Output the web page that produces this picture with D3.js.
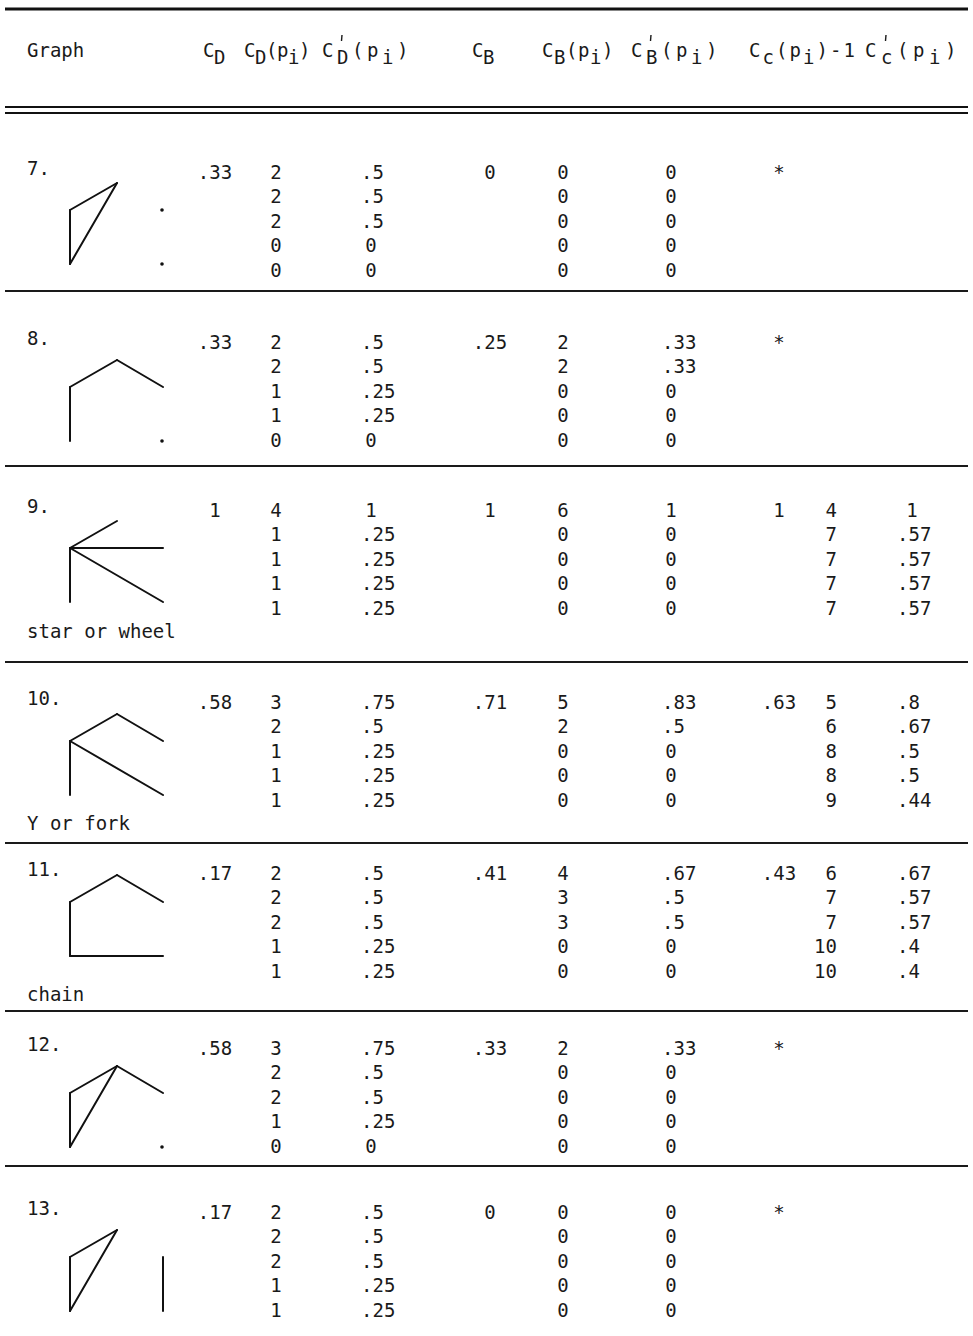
<!DOCTYPE html>
<meta charset="utf-8">
<script src="https://d3js.org/d3.v7.min.js"></script>
<style>
body { margin: 0; background: #fff; }
svg { display: block; }
text { font-family: "DejaVu Sans Mono", monospace; font-size: 19px; fill: #1a1a1a; }
</style>
<svg id="tbl" width="973" height="1336"></svg>
<script>

// --- table data ---
var graphIds   = ["7.", "8.", "9.", "10.", "11.", "12.", "13."];
var graphNames = ["", "", "star or wheel", "Y or fork", "chain", "", ""];

var cD    = [".33", ".33", "1", ".58", ".17", ".58", ".17"];
var cDp   = [[2,2,2,0,0], [2,2,1,1,0], [4,1,1,1,1], [3,2,1,1,1], [2,2,2,1,1], [3,2,2,1,0], [2,2,2,1,1]];
var cDpR  = [[".5",".5",".5","0","0"], [".5",".5",".25",".25","0"], ["1",".25",".25",".25",".25"],
             [".75",".5",".25",".25",".25"], [".5",".5",".5",".25",".25"], [".75",".5",".5",".25","0"],
             [".5",".5",".5",".25",".25"]];
var cB    = ["0", ".25", "1", ".71", ".41", ".33", "0"];
var cBp   = [[0,0,0,0,0], [2,2,0,0,0], [6,0,0,0,0], [5,2,0,0,0], [4,3,3,0,0], [2,0,0,0,0], [0,0,0,0,0]];
var cBpR  = [["0","0","0","0","0"], [".33",".33","0","0","0"], ["1","0","0","0","0"],
             [".83",".5","0","0","0"], [".67",".5",".5","0","0"], [".33","0","0","0","0"],
             ["0","0","0","0","0"]];
var cC    = ["*", "*", "1", ".63", ".43", "*", "*"];
var cCpInv = [[], [], [4,7,7,7,7], [5,6,8,8,9], [6,7,7,10,10], [], []];
var cCpR  = [[], [], ["1",".57",".57",".57",".57"], [".8",".67",".5",".5",".44"],
             [".67",".57",".57",".4",".4"], [], []];

// small graphs: five points A..E, edges between them
var graphEdges = [
  [["A","B"],["B","C"],["C","A"]],
  [["C","B"],["B","A"],["A","D"]],
  [["B","A"],["B","D"],["B","E"],["B","C"]],
  [["B","A"],["A","D"],["B","E"],["B","C"]],
  [["D","A"],["A","B"],["B","C"],["C","E"]],
  [["B","A"],["A","C"],["B","C"],["A","D"]],
  [["A","B"],["B","C"],["C","A"],["D","E"]]
];
var nodes = ["A","B","C","D","E"];

// header labels: glyphs, s = subscript, p = prime above
var headers = [
  {g: [["Graph"]]},
  {g: [["C"],["D","s"]]},
  {g: [["C"],["D","s"],["("],["p"],["i","s"],[")"]]},
  {g: [["C"],["D","sp"],["("],["p"],["i","s"],[")"]]},
  {g: [["C"],["B","s"]]},
  {g: [["C"],["B","s"],["("],["p"],["i","s"],[")"]]},
  {g: [["C"],["B","sp"],["("],["p"],["i","s"],[")"]]},
  {g: [["C"],["c","s"],["("],["p"],["i","s"],[")"],["-"],["1"]]},
  {g: [["C"],["c","sp"],["("],["p"],["i","s"],[")"]]}
];

// --- layout ---
var headX    = [27, 203, 244, 322, 472, 542, 631, 749, 865];
var headStep = [12, 11, 11, 15, 11, 12, 15, 13.5, 16];
var rowY   = [172, 342, 510, 702, 873, 1048, 1212];   // first line of each block
var graphY = [183, 360, 521, 714, 875, 1066, 1230];   // top point of each drawing
var lineStep = 24.4;
var rules = [291, 466, 662, 843, 1011, 1166];

var svg = d3.select("#tbl");

// rules
svg.append("line").attr("x1", 5).attr("x2", 968).attr("y1", 9).attr("y2", 9)
  .attr("stroke", "#111").attr("stroke-width", 3);
[107, 113].forEach(function(y) {
  svg.append("line").attr("x1", 5).attr("x2", 968).attr("y1", y).attr("y2", y)
    .attr("stroke", "#111").attr("stroke-width", 2);
});
svg.selectAll(".rule").data(rules).enter().append("line")
  .attr("class", "rule")
  .attr("x1", 5).attr("x2", 968)
  .attr("y1", function(d) { return d; }).attr("y2", function(d) { return d; })
  .attr("stroke", "#1a1a1a").attr("stroke-width", 2);

// header
headers.forEach(function(h, i) {
  var x = headX[i];
  h.g.forEach(function(gl) {
    var sub = gl[1] && gl[1].indexOf("s") >= 0;
    svg.append("text").attr("x", x).attr("y", sub ? 64 : 57).text(gl[0]);
    if (gl[1] && gl[1].indexOf("p") >= 0) {
      // prime mark typed above the subscript
      svg.append("line").attr("x1", x + 5).attr("x2", x + 4.5)
        .attr("y1", 35).attr("y2", 41)
        .attr("stroke", "#1a1a1a").attr("stroke-width", 1.4);
    }
    x += gl[0].length > 1 ? gl[0].length * 12 : headStep[i];
  });
});

// node positions inside a drawing
var nx = d3.scaleOrdinal().domain(nodes).range([117, 70, 70, 163, 163]);
var level = d3.scaleOrdinal().domain(nodes).range([0, 1, 3, 1, 3]);
var ny = d3.scaleLinear().domain([0, 3]).range([0, 81]);

var line = function(y0) { return function(i) { return y0 + i * lineStep + 7; }; };

graphIds.forEach(function(id, r) {
  var g = svg.append("g");
  var y = line(rowY[r]);
  g.append("text").attr("x", 27).attr("y", rowY[r] + 3).text(id);
  if (graphNames[r]) g.append("text").attr("x", 27).attr("y", rowY[r] + 5 * lineStep + 6).text(graphNames[r]);

  // drawing
  var gy = graphY[r];
  var used = {};
  graphEdges[r].forEach(function(e) { used[e[0]] = 1; used[e[1]] = 1; });
  g.selectAll(".edge").data(graphEdges[r]).enter().append("line")
    .attr("x1", function(e) { return nx(e[0]); })
    .attr("y1", function(e) { return gy + ny(level(e[0])); })
    .attr("x2", function(e) { return nx(e[1]); })
    .attr("y2", function(e) { return gy + ny(level(e[1])); })
    .attr("stroke", "#111").attr("stroke-width", 2).attr("stroke-linecap", "round");
  g.selectAll(".dot").data(nodes.filter(function(n) { return !used[n]; })).enter().append("circle")
    .attr("cx", function(n) { return nx(n) - 1; })
    .attr("cy", function(n) { return gy + ny(level(n)); })
    .attr("r", 1.8).attr("fill", "#111");

  // graph-level values
  g.append("text").attr("x", 215).attr("y", y(0)).attr("text-anchor", "middle").text(cD[r]);
  g.append("text").attr("x", 490).attr("y", y(0)).attr("text-anchor", "middle").text(cB[r]);
  g.append("text").attr("x", 779).attr("y", y(0)).attr("text-anchor", "middle").text(cC[r]);

  // point columns
  function intCol(vals, x) {
    g.selectAll(null).data(vals).enter().append("text")
      .attr("x", x).attr("y", function(d, i) { return y(i); })
      .attr("text-anchor", "middle").text(function(d) { return d; });
  }
  function decCol(vals, x, xi) {
    g.selectAll(null).data(vals).enter().append("text")
      .attr("x", function(d) { return d.charAt(0) === "." ? x : xi; })
      .attr("y", function(d, i) { return y(i); })
      .attr("text-anchor", function(d) { return d.charAt(0) === "." ? "start" : "middle"; })
      .text(function(d) { return d; });
  }
  intCol(cDp[r], 276);
  decCol(cDpR[r], 361, 371);
  intCol(cBp[r], 563);
  decCol(cBpR[r], 662, 671);
  g.selectAll(null).data(cCpInv[r]).enter().append("text")
    .attr("x", 837).attr("y", function(d, i) { return y(i); })
    .attr("text-anchor", "end").text(function(d) { return d; });
  decCol(cCpR[r], 897, 912);
});

</script>
